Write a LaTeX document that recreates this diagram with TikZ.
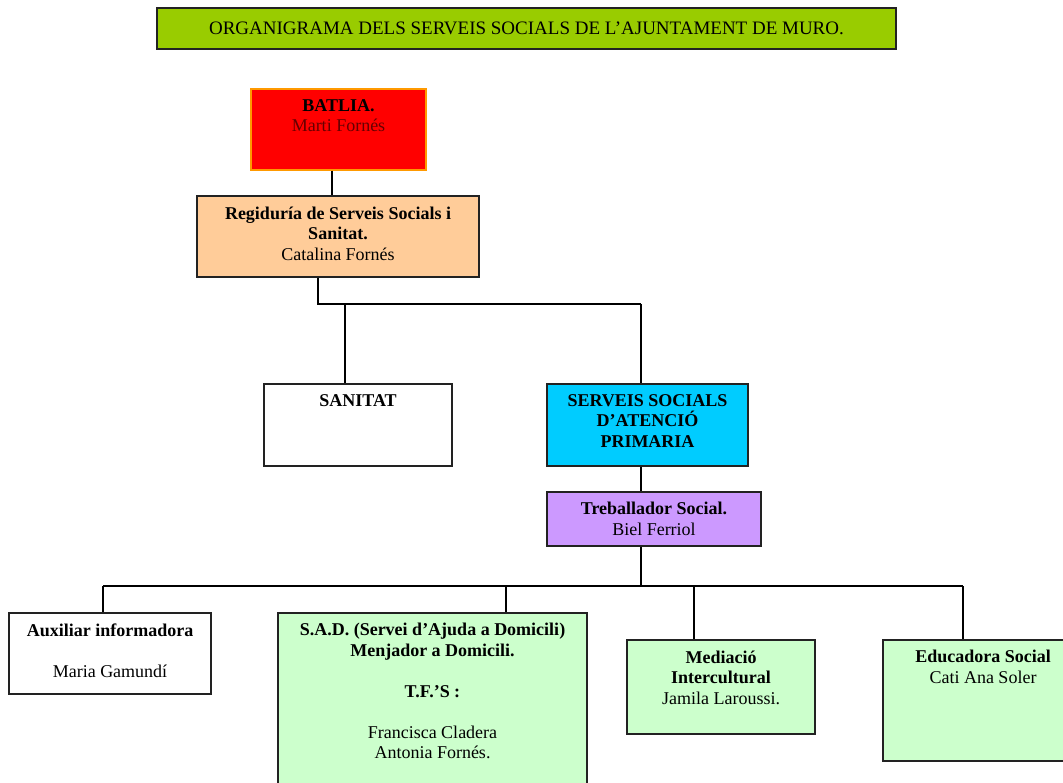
\documentclass[tikz,border=0pt]{standalone}
\usepackage{fontspec}
\setmainfont{Liberation Serif}
\definecolor{titlegreen}{HTML}{99CC00}
\definecolor{batred}{HTML}{FF0000}
\definecolor{batborder}{HTML}{FF9900}
\definecolor{regfill}{HTML}{FFCC99}
\definecolor{ssapfill}{HTML}{00CCFF}
\definecolor{tsfill}{HTML}{CC99FF}
\definecolor{lgreen}{HTML}{CCFFCC}
\definecolor{edge}{HTML}{222222}
\definecolor{darkred}{HTML}{660000}
\begin{document}
\begin{tikzpicture}[x=1pt,y=-1pt,
  frame/.style={draw=edge,line width=1.4pt,rectangle,inner sep=0pt},
  txt/.style={anchor=north,align=center,inner sep=0pt,font=\fontsize{18}{20.5}\selectfont},
  wire/.style={draw=black,line width=1.3pt}]
\useasboundingbox (0,0) rectangle (1063,783);
\clip (0,0) rectangle (1063,783);
% boxes
\node[frame,fill=titlegreen,minimum width=739pt,minimum height=41pt] (titlebox) at (526.5,28.5) {};
\node[inner sep=0pt,font=\fontsize{19}{21}\selectfont] (title) at (526.5,28.5) {ORGANIGRAMA DELS SERVEIS SOCIALS DE L’AJUNTAMENT DE MURO.};

\node[frame,draw=batborder,fill=batred,minimum width=175pt,minimum height=81pt] (bat) at (338.5,129.5) {};
\node[txt] (battxt) at ([yshift=-11pt]bat.north) {\textbf{BATLIA.}\\\textcolor{darkred}{Marti Fornés}};

\node[frame,fill=regfill,minimum width=282pt,minimum height=81pt] (reg) at (338,236.5) {};
\node[txt] (regtxt) at ([yshift=-11pt]reg.north) {\textbf{Regiduría de Serveis Socials i}\\\textbf{Sanitat.}\\Catalina Fornés};

\node[frame,fill=white,minimum width=188pt,minimum height=82pt] (san) at (358,425) {};
\node[txt] (santxt) at ([yshift=-11pt]san.north) {\textbf{SANITAT}};

\node[frame,fill=ssapfill,minimum width=201pt,minimum height=82pt] (ssap) at (647.5,425) {};
\node[txt] (ssaptxt) at ([yshift=-11pt]ssap.north) {\textbf{SERVEIS SOCIALS}\\\textbf{D’ATENCIÓ}\\\textbf{PRIMARIA}};

\node[frame,fill=tsfill,minimum width=214pt,minimum height=54pt] (ts) at (654,519) {};
\node[txt] (tstxt) at ([yshift=-11pt]ts.north) {\textbf{Treballador Social.}\\Biel Ferriol};

\node[frame,fill=white,minimum width=202pt,minimum height=81pt] (aux) at (110,653.5) {};
\node[txt] (auxtxt) at ([yshift=-11pt]aux.north) {\textbf{Auxiliar informadora}\\[20.5pt]Maria Gamundí};

\node[frame,fill=lgreen,minimum width=309pt,minimum height=200pt] (sad) at (432.5,713) {};
\node[txt] (sadtxt) at ([yshift=-11pt]sad.north) {\textbf{S.A.D. (Servei d’Ajuda a Domicili)}\\\textbf{Menjador a Domicili.}\\[20.5pt]\textbf{T.F.’S :}\\[20.5pt]Francisca Cladera\\Antonia Fornés.};

\node[frame,fill=lgreen,minimum width=188pt,minimum height=94pt] (med) at (721,687) {};
\node[txt] (medtxt) at ([yshift=-11pt]med.north) {\textbf{Mediació}\\\textbf{Intercultural}\\Jamila Laroussi.};

\node[frame,fill=lgreen,minimum width=200pt,minimum height=121pt] (edu) at (983,700.5) {};
\node[txt] (edutxt) at ([yshift=-11pt]edu.north) {\textbf{Educadora Social}\\Cati Ana Soler};

% junctions
\coordinate (c0) at (332,170);
\coordinate (j1) at (318,304);
\coordinate (j2) at (641,304);
\coordinate (js) at (345,304);
\coordinate (b1) at (103,586);
\coordinate (b2) at (963,586);
\coordinate (bs) at (506,586);
\coordinate (bm) at (694,586);

% connectors
\draw[wire] (c0 |- bat.south) -- (c0 |- reg.north);
\draw[wire] (j1 |- reg.south) -- (j1) -- (j2);
\draw[wire] (js) -- (js |- san.north);
\draw[wire] (j2) -- (j2 |- ssap.north);
\draw[wire] (j2 |- ssap.south) -- (j2 |- ts.north);
\draw[wire] (j2 |- ts.south) -- (j2 |- b1);
\draw[wire] (b1) -- (b2);
\draw[wire] (b1) -- (b1 |- aux.north);
\draw[wire] (bs) -- (bs |- sad.north);
\draw[wire] (bm) -- (bm |- med.north);
\draw[wire] (b2) -- (b2 |- edu.north);
\end{tikzpicture}
\end{document}
